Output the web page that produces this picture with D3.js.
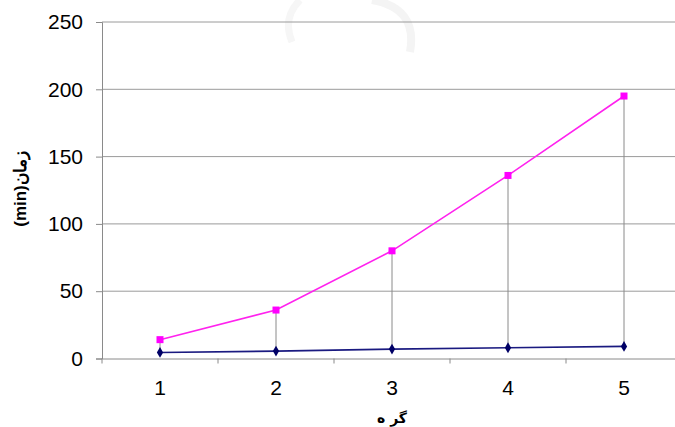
<!DOCTYPE html>
<html>
<head>
<meta charset="utf-8">
<script src="https://cdn.jsdelivr.net/npm/d3@7/dist/d3.min.js"></script>
<style>
  html, body { margin: 0; padding: 0; background: #fff; }
  svg { display: block; }
</style>
</head>
<body>
<svg id="chart" width="675" height="427"></svg>
<script>
const categories = ["1", "2", "3", "4", "5"];
const seriesHigh = [14, 36, 80, 136, 195];
const seriesLow = [4.5, 5.5, 7, 8, 9];
const yTicks = [0, 50, 100, 150, 200, 250];
const xTitle = "گر ه";
const yTitle = "(min)زمان";

const svg = d3.select("#chart");
const m = { left: 102, top: 22, right: 682, bottom: 358.5 };

const x = d3.scaleBand().domain(categories).range([m.left, m.right]).padding(0);
const y = d3.scaleLinear().domain([0, 250]).range([m.bottom, m.top]);
const cx = d => x(d) + x.bandwidth() / 2;

// very faint watermark arcs at the top
svg.append("path").attr("d", "M300,0 Q282,18 292,42").attr("fill", "none")
  .attr("stroke", "#f6f6f6").attr("stroke-width", 7);
svg.append("path").attr("d", "M372,0 Q418,8 410,52").attr("fill", "none")
  .attr("stroke", "#f4f4f4").attr("stroke-width", 8);

// gridlines
svg.append("g").selectAll("line").data(yTicks.filter(t => t > 0)).join("line")
  .attr("x1", m.left).attr("x2", m.right)
  .attr("y1", d => y(d)).attr("y2", d => y(d))
  .attr("stroke", "#9a9a9a").attr("stroke-width", 1);

// y axis
const yAxis = d3.axisLeft(y).tickValues(yTicks).tickSize(6).tickPadding(13);
const gy = svg.append("g").attr("transform", `translate(${m.left},0)`).call(yAxis);
gy.select(".domain").attr("stroke", "#8a8a8a");
gy.selectAll(".tick line").attr("stroke", "#8a8a8a");
gy.selectAll(".tick text").attr("font-family", "Liberation Sans, Arial, sans-serif")
  .attr("font-size", 21).attr("fill", "#000");

// x axis
const xAxis = d3.axisBottom(x).tickSize(0).tickPadding(22);
const gx = svg.append("g").attr("transform", `translate(0,${m.bottom})`).call(xAxis);
gx.select(".domain").attr("stroke", "#8a8a8a");
gx.selectAll(".tick text").attr("font-family", "Liberation Sans, Arial, sans-serif")
  .attr("font-size", 21).attr("fill", "#000");
// boundary ticks between categories
svg.append("g").selectAll("line").data(categories).join("line")
  .attr("x1", d => x(d)).attr("x2", d => x(d))
  .attr("y1", m.bottom).attr("y2", m.bottom + 5)
  .attr("stroke", "#8a8a8a");

// high-low lines
svg.append("g").selectAll("line").data(categories).join("line")
  .attr("x1", d => cx(d)).attr("x2", d => cx(d))
  .attr("y1", (d, i) => y(seriesHigh[i])).attr("y2", (d, i) => y(seriesLow[i]))
  .attr("stroke", "#8a8a8a").attr("stroke-width", 1);

const line = d3.line().x((d, i) => cx(categories[i])).y(d => y(d));

// low series (navy, diamonds)
svg.append("path").datum(seriesLow).attr("d", line)
  .attr("fill", "none").attr("stroke", "#1a1a80").attr("stroke-width", 1.6);
svg.append("g").selectAll("path").data(seriesLow).join("path")
  .attr("d", d3.symbol(d3.symbolDiamond, 34))
  .attr("transform", (d, i) => `translate(${cx(categories[i])},${y(d)})`)
  .attr("fill", "#000066");

// high series (magenta, squares)
svg.append("path").datum(seriesHigh).attr("d", line)
  .attr("fill", "none").attr("stroke", "#ff22ee").attr("stroke-width", 1.6);
svg.append("g").selectAll("rect").data(seriesHigh).join("rect")
  .attr("x", (d, i) => cx(categories[i]) - 3.5).attr("y", d => y(d) - 3.5)
  .attr("width", 7).attr("height", 7).attr("fill", "#ff00ff");

// axis titles
svg.append("text").attr("x", 392).attr("y", 423)
  .attr("text-anchor", "middle").attr("font-family", "DejaVu Sans, sans-serif")
  .attr("font-weight", "bold").attr("font-size", 14).attr("direction", "rtl")
  .text(xTitle);
svg.append("text").attr("transform", "translate(26,189) rotate(-90)")
  .attr("text-anchor", "middle").attr("font-family", "Liberation Sans, Arial, sans-serif")
  .attr("font-weight", "bold").attr("font-size", 17)
  .text(yTitle);
</script>
</body>
</html>
